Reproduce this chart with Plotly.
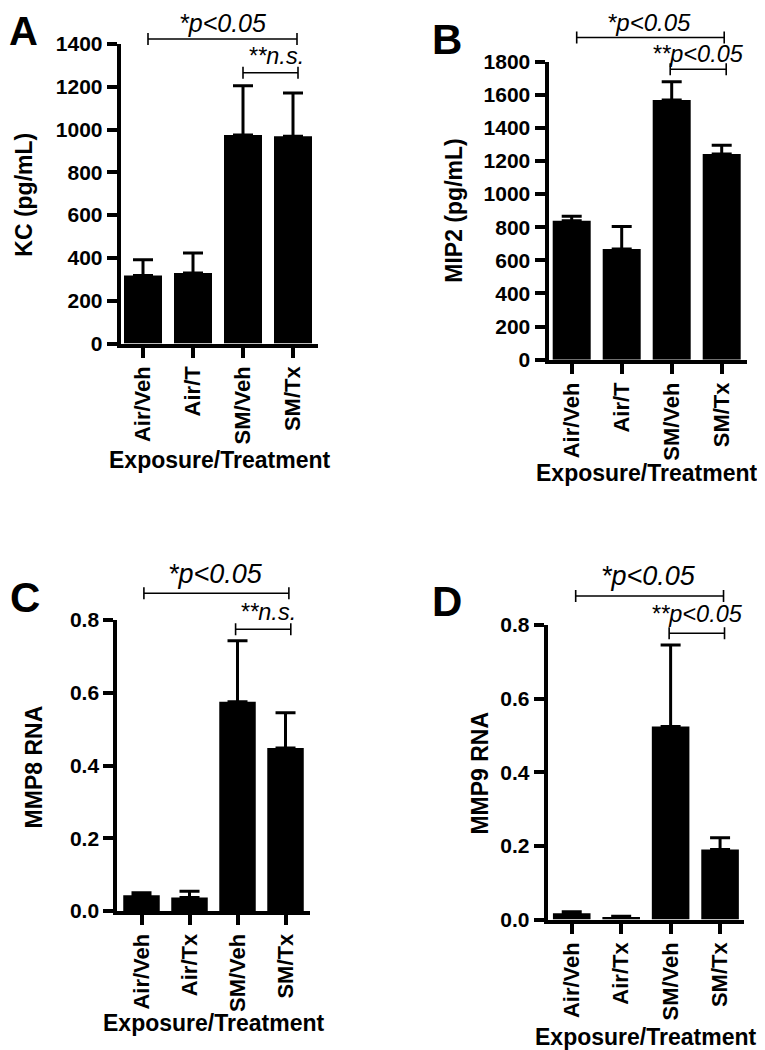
import plotly.graph_objects as go

# page body has an 8px margin, so the figure is drawn 8px right/down
OFF = 8
W, H = 765 - OFF, 1050 - OFF

# ---------------- data ----------------
cats_ab = ["Air/Veh", "Air/T", "SM/Veh", "SM/Tx"]
cats_cd = ["Air/Veh", "Air/Tx", "SM/Veh", "SM/Tx"]

kc_mean = [318, 329, 975, 969]
kc_err = [74, 94, 230, 202]

mip2_mean = [840, 669, 1569, 1243]
mip2_err = [26, 136, 110, 52]

mmp8_mean = [0.043, 0.037, 0.575, 0.448]
mmp8_err = [0.007, 0.017, 0.168, 0.097]

mmp9_mean = [0.017, 0.007, 0.524, 0.190]
mmp9_err = [0.004, 0.002, 0.222, 0.032]

y_titles = ["KC (pg/mL)", "MIP2 (pg/mL)", "MMP8 RNA", "MMP9 RNA"]
x_title = "Exposure/Treatment"
letters = ["A", "B", "C", "D"]
sig_main = ["*p&lt;0.05", "*p&lt;0.05", "*p&lt;0.05", "*p&lt;0.05"]
sig_pair = ["**n.s.", "**p&lt;0.05", "**n.s.", "**p&lt;0.05"]
y_max = [1400, 1800, 0.8, 0.8]
y_dtick = [200, 200, 0.2, 0.2]
y_fmt = ["d", "d", ".1f", ".1f"]

panels_data = [
    (cats_ab, kc_mean, kc_err),
    (cats_ab, mip2_mean, mip2_err),
    (cats_cd, mmp8_mean, mmp8_err),
    (cats_cd, mmp9_mean, mmp9_err),
]

# ---------------- layout geometry (page pixels) ----------------
# left, right, top, bottom, xrange
geom = [
    (120.7, 318.0, 44.0, 343.5, [-0.446, 3.5]),
    (548.5, 746.7, 61.7, 359.7, [-0.464, 3.5]),
    (117.3, 310.0, 620.0, 911.0, [-0.504, 3.51]),
    (547.7, 744.3, 625.0, 919.5, [-0.486, 3.49]),
]
# brackets: (x0, x1, ypx) main and pair; text: (x, ypx, size)
brackets = [
    [(0.10, 3.08, 39.0), (2.00, 3.10, 72.7)],
    [(0.10, 3.05, 37.5), (1.97, 3.09, 69.3)],
    [(0.05, 3.07, 593.3), (1.96, 3.11, 629.3)],
    [(0.08, 3.07, 596.0), (1.97, 3.09, 633.3)],
]
texts = [
    [(1.58, 23.3, 25), (2.65, 56.0, 23.5)],
    [(1.55, 22.5, 24), (2.52, 53.5, 23.5)],
    [(1.55, 573.9, 27), (2.64, 611.9, 23.5)],
    [(1.56, 575.6, 27), (2.54, 614.4, 23.5)],
]
letter_pos = [(23.5, 30.6, 40), (447, 39.4, 42), (24.5, 597.1, 42), (447, 601.4, 42)]
ytitle_pos = [(23.7, 195), (453.7, 211), (33.7, 766.7), (480.3, 773.3)]
xtitle_pos = [(219.2, 460.3), (646.7, 472.7), (213.3, 1022.7), (645, 1037)]

FONT = "Liberation Sans, Arial, Helvetica, sans-serif"


def px(x):
    return (x - OFF) / W


def py(y):
    return 1 - (y - OFF) / H


fig = go.Figure()
layout = dict(
    width=W, height=H,
    margin=dict(l=0, r=0, t=0, b=0, autoexpand=False),
    paper_bgcolor="white", plot_bgcolor="white",
    showlegend=False,
    font=dict(family=FONT, color="black"),
)
shapes = []
annotations = []

for i, (cats, mean, err) in enumerate(panels_data):
    n = "" if i == 0 else str(i + 1)
    xa, ya = "x" + n, "y" + n
    left, right, top, bottom, xr = geom[i]
    fig.add_trace(go.Bar(
        x=cats, y=mean,
        width=0.76,
        marker=dict(color="black", line=dict(width=0)),
        error_y=dict(type="data", array=err, arrayminus=[0] * len(err),
                     symmetric=False, thickness=3, width=10, color="black"),
        xaxis=xa, yaxis=ya,
    ))
    layout["xaxis" + n] = dict(
        domain=[px(left), px(right)], anchor=ya, type="category",
        range=xr, showline=True, linewidth=4, linecolor="black",
        ticks="outside", ticklen=10, tickwidth=3.5, tickcolor="black",
        tickangle=-90, showgrid=False, zeroline=False,
        tickfont=dict(family=FONT, size=22, color="black", weight="bold"),
    )
    layout["yaxis" + n] = dict(
        domain=[py(bottom), py(top)], anchor=xa,
        range=[0, y_max[i]], dtick=y_dtick[i], tick0=0, tickformat=y_fmt[i],
        showline=True, linewidth=4, linecolor="black",
        ticks="outside", ticklen=10, tickwidth=3.5, tickcolor="black",
        showgrid=False, zeroline=False,
        tickfont=dict(family=FONT, size=21, color="black", weight="bold"),
    )
    # significance brackets
    for (x0, x1, yb) in brackets[i]:
        for seg in [(x0, yb, x1, yb), (x0, yb - 6, x0, yb + 6), (x1, yb - 6, x1, yb + 6)]:
            shapes.append(dict(type="line", xref=xa, yref="paper",
                               x0=seg[0], y0=py(seg[1]), x1=seg[2], y1=py(seg[3]),
                               line=dict(color="black", width=1.6)))
    (tx1, ty1, ts1), (tx2, ty2, ts2) = texts[i]
    annotations.append(dict(text=sig_main[i], xref=xa, yref="paper", x=tx1, y=py(ty1),
                            xanchor="center", yanchor="middle", showarrow=False,
                            font=dict(family=FONT, size=ts1, color="black", style="italic")))
    annotations.append(dict(text=sig_pair[i], xref=xa, yref="paper", x=tx2, y=py(ty2),
                            xanchor="center", yanchor="middle", showarrow=False,
                            font=dict(family=FONT, size=ts2, color="black", style="italic")))
    # panel letter
    lx, ly, ls = letter_pos[i]
    annotations.append(dict(text=letters[i], xref="paper", yref="paper", x=px(lx), y=py(ly),
                            xanchor="center", yanchor="middle", showarrow=False,
                            font=dict(family=FONT, size=ls, color="black", weight="bold")))
    # axis titles
    yx, yy = ytitle_pos[i]
    annotations.append(dict(text=y_titles[i], xref="paper", yref="paper", x=px(yx), y=py(yy),
                            xanchor="center", yanchor="middle", showarrow=False, textangle=-90,
                            font=dict(family=FONT, size=23, color="black", weight="bold")))
    xx, xy = xtitle_pos[i]
    annotations.append(dict(text=x_title, xref="paper", yref="paper", x=px(xx), y=py(xy),
                            xanchor="center", yanchor="middle", showarrow=False,
                            font=dict(family=FONT, size=23, color="black", weight="bold")))

layout["shapes"] = shapes
layout["annotations"] = annotations
fig.update_layout(**layout)
fig.write_html("out.html")
